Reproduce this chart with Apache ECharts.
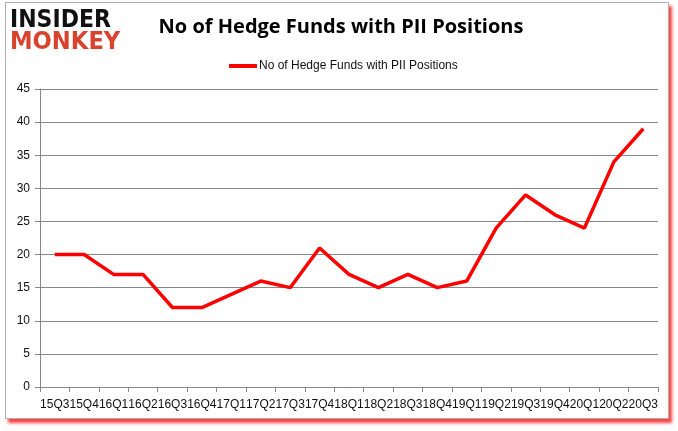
<!DOCTYPE html>
<html><head><meta charset="utf-8">
<script src="https://cdn.jsdelivr.net/npm/echarts@6/dist/echarts.min.js"></script>
<style>
html,body{margin:0;padding:0;background:#fff;}
#frame{position:absolute;left:5px;top:2px;width:662px;height:415px;border:1px solid #b0b0b0;background:#fff;box-shadow:3px 4px 3px rgba(255,0,0,0.75);}
#chart{position:absolute;left:0;top:0;width:678px;height:431px;}
</style></head>
<body>
<div id="frame"></div>
<div id="chart"></div>
<script>
const categories = ["15Q3","15Q4","16Q1","16Q2","16Q3","16Q4","17Q1","17Q2","17Q3","17Q4","18Q1","18Q2","18Q3","18Q4","19Q1","19Q2","19Q3","19Q4","20Q1","20Q2","20Q3"];
const hedgeFunds = [20,20,17,17,12,12,14,16,15,21,17,15,17,15,16,24,29,26,24,34,39];
const seriesName = "No of Hedge Funds with PII Positions";
const titleText = "No of Hedge Funds with PII Positions";

const chart = echarts.init(document.getElementById('chart'), null, {renderer:'canvas'});
chart.setOption({
  backgroundColor: 'transparent',
  animation: false,
  title: {
    text: titleText, left: 336, top: 12, textAlign: 'center',
    textStyle: {fontFamily: 'Open Sans', fontWeight: 'bold', fontSize: 20, color: '#000'}
  },
  graphic: [
    {type:'text', x: 10, y: 8, scaleX: 1.02, scaleY: 1.05, style:{text:'INSIDER', font:'bold 24px "DejaVu Sans Condensed"', fill:'#111'}},
    {type:'text', x: 10, y: 30, scaleX: 1.05, scaleY: 1.05, style:{text:'MONKEY', font:'bold 24px "DejaVu Sans Condensed"', fill:'#d9432e'}}
  ],
  legend: {
    data: [seriesName], left: 224, top: 55, itemWidth: 28, itemHeight: 4, itemGap: 2,
    icon: 'rect',
    textStyle: {fontFamily: 'Liberation Sans', fontSize: 12, color: '#111', padding:[0,0,0,-3]}
  },
  grid: {left: 40, right: 20, top: 89, bottom: 44, containLabel: false},
  xAxis: {
    type: 'category', data: categories, boundaryGap: true,
    axisLine: {lineStyle: {color: '#888'}},
    axisTick: {show: true, alignWithLabel: false, lineStyle: {color: '#888'}, length: 5},
    axisLabel: {interval: 0, fontFamily: 'Liberation Sans', fontSize: 12, color: '#111', margin: 12}
  },
  yAxis: {
    type: 'value', min: 0, max: 45, interval: 5,
    axisLine: {show: true, lineStyle: {color: '#888'}},
    axisTick: {show: true, lineStyle: {color: '#888'}, length: 5},
    splitLine: {lineStyle: {color: '#888'}},
    axisLabel: {fontFamily: 'Liberation Sans', fontSize: 12, color: '#111', margin: 10}
  },
  series: [{
    name: seriesName, type: 'line', data: hedgeFunds,
    symbol: 'none', lineStyle: {color: '#ff0000', width: 3.5}, itemStyle: {color: '#ff0000'}
  }]
});
</script>
</body></html>
